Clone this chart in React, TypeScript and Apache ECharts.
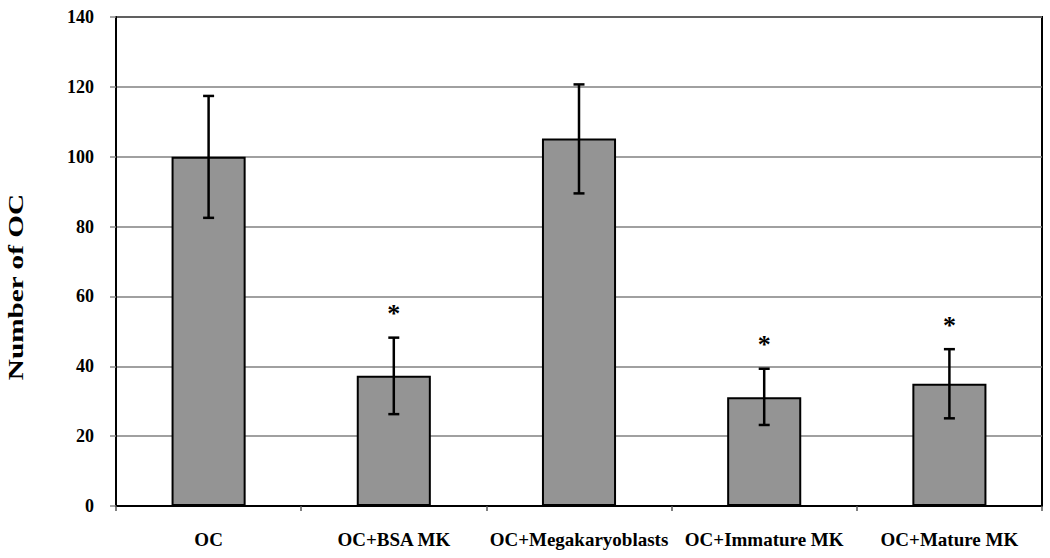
import React, { useEffect, useRef } from "react";
import * as echarts from "echarts";

const categories = ["OC", "OC+BSA MK", "OC+Megakaryoblasts", "OC+Immature MK", "OC+Mature MK"];
const means = [100, 37.3, 105.2, 31.1, 35];
const errLow = [82.5, 26.3, 89.5, 23.2, 25.1];
const errHigh = [117.4, 48.2, 120.7, 39.3, 44.9];
const significant = [false, true, false, true, true];
const yTicks = [0, 20, 40, 60, 80, 100, 120, 140];

const FONT = '"Liberation Serif", "Times New Roman", serif';

export default function App() {
  const ref = useRef<HTMLDivElement>(null);
  useEffect(() => {
    if (!ref.current) return;
    const chart = echarts.init(ref.current, undefined, { renderer: "svg" });
    const errData = categories.map((_, i) => [i, errLow[i], errHigh[i], significant[i] ? 1 : 0]);
    chart.setOption({
      animation: false,
      backgroundColor: "#ffffff",
      grid: {
        left: 116,
        right: 8,
        top: 17,
        bottom: 52,
        show: true,
        borderColor: "#000",
        borderWidth: 2,
        backgroundColor: "transparent",
      },
      xAxis: {
        type: "category",
        data: categories,
        axisLine: { show: true, lineStyle: { color: "#000", width: 2 } },
        axisTick: { show: true, length: 5, lineStyle: { color: "#555", width: 1.5 } },
        axisLabel: {
          color: "#000",
          fontFamily: FONT,
          fontWeight: "bold",
          fontSize: 19,
          margin: 24,
          interval: 0,
        },
        splitLine: { show: false },
      },
      yAxis: {
        type: "value",
        min: yTicks[0],
        max: yTicks[yTicks.length - 1],
        interval: 20,
        axisLine: { show: true, lineStyle: { color: "#000", width: 2 } },
        axisTick: { show: true, length: 6, lineStyle: { color: "#888", width: 1.5 } },
        axisLabel: {
          color: "#000",
          fontFamily: FONT,
          fontWeight: "bold",
          fontSize: 18,
          margin: 22,
          padding: [8, 0, 0, 0],
        },
        splitLine: { show: true, lineStyle: { color: "#808080", width: 1.5 } },
      },
      graphic: [
        {
          type: "text",
          x: 16,
          y: 287,
          rotation: Math.PI / 2,
          scaleX: 1.33,
          style: {
            text: "Number of OC",
            font: `bold 22px ${FONT}`,
            fill: "#000",
            align: "center",
            verticalAlign: "middle",
          },
        },
      ],
      series: [
        {
          type: "bar",
          data: means,
          barWidth: "40%",
          itemStyle: { color: "#949494", borderColor: "#000", borderWidth: 2 },
          z: 2,
        },
        {
          type: "custom",
          data: errData,
          z: 3,
          renderItem: (params: any, api: any) => {
            const idx = api.value(0);
            const top = api.coord([idx, api.value(2)]);
            const bot = api.coord([idx, api.value(1)]);
            const x = top[0];
            const hw = 5.5;
            const style = { stroke: "#000", lineWidth: 2.5 };
            const children: any[] = [
              { type: "line", shape: { x1: x, y1: top[1], x2: x, y2: bot[1] }, style },
              { type: "line", shape: { x1: x - hw, y1: top[1], x2: x + hw, y2: top[1] }, style },
              { type: "line", shape: { x1: x - hw, y1: bot[1], x2: x + hw, y2: bot[1] }, style },
            ];
            if (api.value(3) === 1) {
              children.push({
                type: "text",
                x: x,
                y: top[1] - 24,
                style: {
                  text: "*",
                  font: `bold 26px ${FONT}`,
                  fill: "#000",
                  align: "center",
                  verticalAlign: "middle",
                },
              });
            }
            return { type: "group", children };
          },
        },
      ],
    });
    return () => chart.dispose();
  }, []);
  return <div ref={ref} style={{ width: 1050, height: 558, position: "absolute", left: 0, top: 0 }} />;
}
